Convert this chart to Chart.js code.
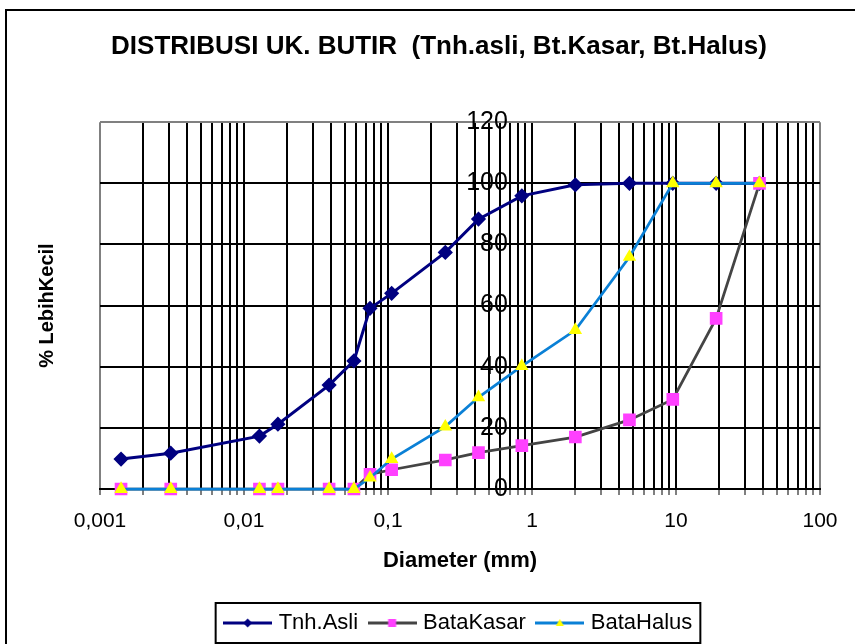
<!DOCTYPE html>
<html>
<head>
<meta charset="utf-8">
<title>Distribusi Ukuran Butir</title>
<script src="https://cdn.jsdelivr.net/npm/chart.js@4.4.0/dist/chart.umd.min.js"></script>
<style>
  body { margin: 0; background: #fff; }
  canvas { display: block; }
</style>
</head>
<body>
<canvas id="myChart" width="855" height="644"></canvas>
<script>
// diameter (mm) of every reading, shared by the three samples
const diameter = [0.0014, 0.0031, 0.0128, 0.0172, 0.039, 0.058, 0.075, 0.106, 0.25, 0.425, 0.85, 2.0, 4.75, 9.5, 19, 38];
const tnhAsli   = [9.8, 11.7, 17.3, 21.2, 34, 41.9, 59.1, 64, 77.4, 88.3, 95.9, 99.5, 100, 100, 100, 100];
const bataKasar = [0, 0, 0, 0, 0, 0, 4.8, 6.3, 9.5, 11.9, 14.2, 17, 22.6, 29.3, 55.8, 100];
const bataHalus = [0, 0, 0, 0, 0, 0, 3.7, 9.8, 20.4, 30, 40.2, 52, 75.9, 100, 100, 100];
const seriesNames = ['Tnh.Asli', 'BataKasar', 'BataHalus'];

const xTickValues = [0.001, 0.01, 0.1, 1, 10, 100];
const xTickLabels = ['0,001', '0,01', '0,1', '1', '10', '100'];
const yMin = 0, yMax = 120, yStep = 20;

// gridlines at 1..9 of every decade
const xGrid = [];
for (let d = 0; d < xTickValues.length - 1; d++) {
  for (let k = 1; k <= 9; k++) xGrid.push(Number((k * xTickValues[d]).toPrecision(6)));
}
xGrid.push(xTickValues[xTickValues.length - 1]);

const toPoints = ys => ys.map((y, i) => ({x: diameter[i], y: y}));

function makeIcon(lineColor, shape, fill) {
  const c = document.createElement('canvas');
  c.width = 49; c.height = 14;
  const g = c.getContext('2d');
  g.strokeStyle = lineColor; g.lineWidth = 3;
  g.beginPath(); g.moveTo(0, 7); g.lineTo(49, 7); g.stroke();
  g.fillStyle = fill;
  g.beginPath();
  if (shape === 'diamond') {
    g.moveTo(24.5, 2.5); g.lineTo(29, 7); g.lineTo(24.5, 11.5); g.lineTo(20, 7);
  } else if (shape === 'square') {
    g.rect(20.5, 3, 8, 8);
  } else {
    g.moveTo(24.5, 3); g.lineTo(28.5, 10); g.lineTo(20.5, 10);
  }
  g.closePath(); g.fill();
  return c;
}
const legendIcons = [
  makeIcon('#000080', 'diamond', '#000080'),
  makeIcon('#444444', 'square', '#ff40ff'),
  makeIcon('#0a80d6', 'triangle', '#ffff00')
];

const framePlugin = {
  id: 'frame',
  beforeDraw(chart) {
    const c = chart.ctx;
    c.save();
    c.fillStyle = '#fff';
    c.fillRect(0, 0, chart.width, chart.height);
    c.strokeStyle = '#000'; c.lineWidth = 2;
    c.strokeRect(6, 10, chart.width + 20, chart.height + 20);
    c.restore();
  },
  afterDraw(chart) {
    const hb = chart.legend.legendHitBoxes;
    if (!hb || !hb.length) return;
    const first = hb[0], last = hb[hb.length - 1];
    const cy = first.top + first.height / 2;
    const c = chart.ctx;
    c.save();
    c.strokeStyle = '#000'; c.lineWidth = 2;
    c.strokeRect(first.left - 12, cy - 20, last.left + last.width - first.left + 20, 40);
    c.restore();
  }
};

const edgeGray = '#808080';
const ctx = document.getElementById('myChart').getContext('2d');
const myChart = new Chart(ctx, {
  type: 'line',
  data: {
    datasets: [
      {
        label: seriesNames[0], data: toPoints(tnhAsli), order: 2,
        borderColor: '#000080', backgroundColor: '#000080', borderWidth: 3,
        pointStyle: 'rectRot', pointRadius: 5.5, pointBorderColor: '#000080', pointBackgroundColor: '#000080'
      },
      {
        label: seriesNames[1], data: toPoints(bataKasar), order: 1,
        borderColor: '#444444', backgroundColor: '#ff40ff', borderWidth: 2.75,
        pointStyle: 'rect', pointRadius: 7, pointBorderColor: '#ff40ff', pointBackgroundColor: '#ff40ff'
      },
      {
        label: seriesNames[2], data: toPoints(bataHalus), order: 0,
        borderColor: '#0a80d6', backgroundColor: '#ffff00', borderWidth: 2.75,
        pointStyle: 'triangle', pointRadius: 5, pointBorderColor: '#ffff00', pointBackgroundColor: '#ffff00'
      }
    ]
  },
  options: {
    responsive: false,
    animation: false,
    events: [],
    clip: false,
    elements: { line: { tension: 0 } },
    layout: { padding: { left: 23, right: 0, top: 0, bottom: 0 } },
    plugins: {
      title: {
        display: true,
        text: 'DISTRIBUSI UK. BUTIR  (Tnh.asli, Bt.Kasar, Bt.Halus)',
        color: '#000',
        font: { family: 'Liberation Sans', size: 26, weight: 'bold' },
        padding: { top: 31, bottom: 60 }
      },
      legend: {
        position: 'bottom',
        fullSize: false,
        labels: {
          usePointStyle: true,
          pointStyleWidth: 40,
          padding: 14,
          color: '#000',
          font: { family: 'Liberation Sans', size: 22 },
          generateLabels: chart => chart.data.datasets.map((ds, i) => ({
            text: ds.label, pointStyle: legendIcons[i], datasetIndex: i,
            fillStyle: 'transparent', strokeStyle: 'transparent', lineWidth: 0,
            fontColor: '#000', hidden: false
          }))
        }
      },
      tooltip: { enabled: false }
    },
    scales: {
      x: {
        type: 'logarithmic',
        min: xTickValues[0],
        max: xTickValues[xTickValues.length - 1],
        afterBuildTicks: scale => { scale.ticks = xGrid.map(v => ({value: v})); },
        afterFit: scale => { scale.height = 109; },
        grid: {
          color: c => (c.tick && (c.tick.value === xTickValues[0] || c.tick.value === xTickValues[xTickValues.length - 1])) ? edgeGray : '#000',
          lineWidth: 2,
          tickLength: 6,
          tickColor: '#000',
          tickWidth: 1
        },
        border: { display: true, color: '#000', width: 2 },
        ticks: {
          autoSkip: false,
          maxRotation: 0,
          padding: 14,
          color: '#000',
          font: { family: 'Liberation Sans', size: 21 },
          callback: v => {
            const i = xTickValues.indexOf(v);
            return i >= 0 ? xTickLabels[i] : '';
          }
        },
        title: {
          display: true,
          text: 'Diameter (mm)',
          color: '#000',
          font: { family: 'Liberation Sans', size: 22, weight: 'bold' },
          padding: { top: 0, bottom: 24 }
        }
      },
      y: {
        // labels sit just left of the x = 1 gridline, where the value axis crosses
        position: { x: 0.68 },
        min: yMin,
        max: yMax,
        grid: {
          color: c => (c.tick && c.tick.value === yMax) ? edgeGray : '#000',
          lineWidth: 2,
          drawTicks: false
        },
        border: { display: false },
        ticks: {
          stepSize: yStep,
          color: '#000',
          font: { family: 'Liberation Sans', size: 25 }
        }
      },
      yTitle: {
        type: 'linear',
        position: 'left',
        afterFit: scale => { scale.width = 77; },
        grid: { display: false },
        border: { display: false },
        ticks: { display: false },
        title: {
          display: true,
          text: '% LebihKecil',
          color: '#000',
          font: { family: 'Liberation Sans', size: 20, weight: 'bold' },
          padding: { top: 12, bottom: 0 }
        }
      },
      yRight: {
        type: 'linear',
        position: 'right',
        afterFit: scale => { scale.width = 35; },
        grid: { display: false },
        border: { display: false },
        ticks: { display: false }
      }
    }
  },
  plugins: [framePlugin]
});
</script>
</body>
</html>
